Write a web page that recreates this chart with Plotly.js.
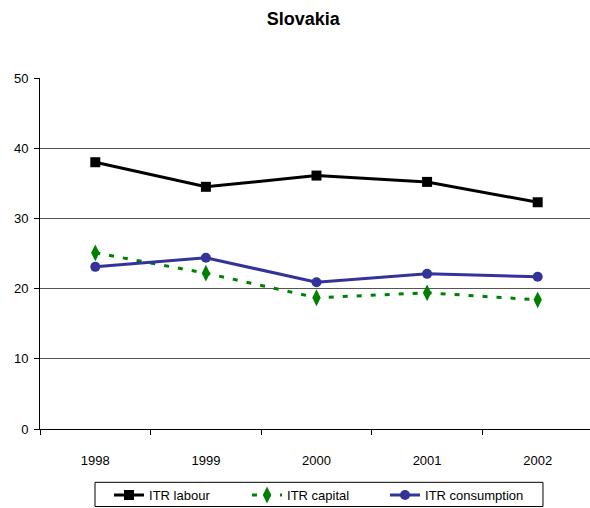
<!DOCTYPE html>
<html>
<head>
<meta charset="utf-8">
<script src="https://cdn.plot.ly/plotly-3.0.1.min.js"></script>
<style>html,body{margin:0;padding:0;background:#fff;}#chart{width:590px;height:508px;}</style>
</head>
<body>
<div id="chart"></div>
<script>
var years = ['1998', '1999', '2000', '2001', '2002'];
var itrLabour = [38.0, 34.5, 36.1, 35.2, 32.3];
var itrCapital = [25.1, 22.2, 18.7, 19.4, 18.4];
var itrConsumption = [23.1, 24.4, 20.9, 22.1, 21.7];
var yTicks = [0, 10, 20, 30, 40, 50];

var FONT = 'Liberation Sans, Arial, sans-serif';

var traces = [
  {x: years, y: itrLabour, name: 'ITR labour', type: 'scatter', mode: 'lines+markers',
   line: {color: '#000000', width: 3}, marker: {symbol: 'square', size: 10, color: '#000000'}},
  {x: years, y: itrCapital, name: 'ITR capital', type: 'scatter', mode: 'lines+markers',
   line: {color: '#008000', width: 3, dash: '5px,9px'}, marker: {symbol: 'diamond-tall', size: 12, color: '#008000'}},
  {x: years, y: itrConsumption, name: 'ITR consumption', type: 'scatter', mode: 'lines+markers',
   line: {color: '#333399', width: 3}, marker: {symbol: 'circle', size: 10, color: '#333399'}}
];

var layout = {
  width: 590, height: 508,
  margin: {l: 40, r: 0, t: 78, b: 79},
  paper_bgcolor: '#ffffff', plot_bgcolor: '#ffffff',
  font: {family: FONT, size: 13, color: '#000000'},
  title: {text: '<b>Slovakia</b>', font: {family: FONT, size: 18, color: '#000000'}, xref: 'container', x: 0.514, xanchor: 'center', yref: 'container', y: 0.964, yanchor: 'middle'},
  xaxis: {type: 'category', range: [-0.5, 4.473], tickson: 'boundaries', ticks: 'outside', ticklen: 5, tickcolor: '#000000',
          showline: true, linecolor: '#000000', linewidth: 1, showgrid: false, zeroline: false, ticklabelstandoff: 19, fixedrange: true},
  yaxis: {range: [0, 50], tickvals: yTicks, ticks: 'outside', ticklen: 5, tickcolor: '#000000', showline: true, linecolor: '#000000',
          linewidth: 1, showgrid: true, gridcolor: '#555555', gridwidth: 1, zeroline: false, ticklabelstandoff: 3, fixedrange: true},
  showlegend: true,
  legend: {orientation: 'h', xref: 'paper', x: 0.1255, xanchor: 'left', yref: 'container', y: 0.055, yanchor: 'top',
           borderwidth: 0, bgcolor: 'rgba(0,0,0,0)', entrywidth: 93, font: {family: FONT, size: 13}, itemclick: false, tracegroupgap: 0},
  shapes: [{type: 'rect', xref: 'paper', yref: 'paper', x0: 0.1, x1: 0.9145, y0: -0.2208, y1: -0.1519,
            line: {color: '#000000', width: 1}, fillcolor: 'rgba(0,0,0,0)', layer: 'above'}]
};

Plotly.newPlot('chart', traces, layout, {displayModeBar: false, staticPlot: true});
</script>
</body>
</html>
